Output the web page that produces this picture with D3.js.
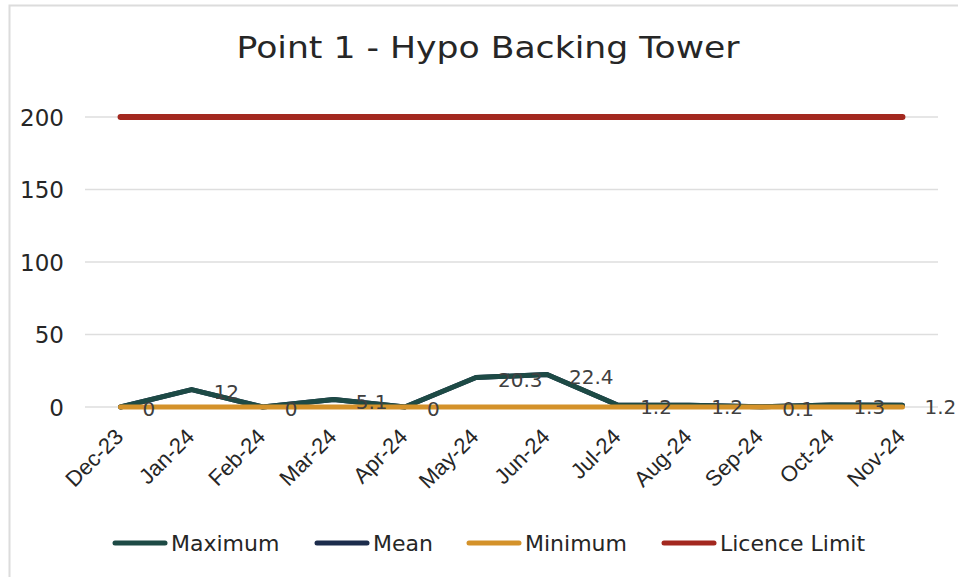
<!DOCTYPE html>
<html><head><meta charset="utf-8">
<script src="https://cdn.jsdelivr.net/npm/d3@7"></script>
<style>body{margin:0;background:#fff;}svg{display:block;}</style>
</head><body>
<svg id="c" width="958" height="577"></svg>
<script>
const months = ["Dec-23","Jan-24","Feb-24","Mar-24","Apr-24","May-24","Jun-24","Jul-24","Aug-24","Sep-24","Oct-24","Nov-24"];
const maximum = [0,12,0,5.1,0,20.3,22.4,1.2,1.2,0.1,1.3,1.2];
const mean = [0,12,0,5.1,0,20.3,22.4,1.2,1.2,0.1,1.3,1.2];
const minimum = [0,0,0,0,0,0,0,0,0,0,0,0];
const licenceLimit = [200,200,200,200,200,200,200,200,200,200,200,200];
const yTicks = [0,50,100,150,200];
const seriesNames = ["Maximum","Mean","Minimum","Licence Limit"];
const title = "Point 1 - Hypo Backing Tower";

const svg = d3.select("#c");
const font = "'DejaVu Sans', sans-serif";
const font2 = "'Liberation Sans', Arial, sans-serif";
const colors = {"Maximum":"#1d4a45","Mean":"#1c2c4c","Minimum":"#d4922a","Licence Limit":"#a3281f"};

svg.append("rect").attr("x",9.5).attr("y",5.5).attr("width",1000).attr("height",1000)
  .attr("fill","none").attr("stroke","#dcdcdc").attr("stroke-width",2);

const x = d3.scalePoint().domain(months).range([85,938]).padding(0.5);
const y = d3.scaleLinear().domain([0,200]).range([407,117]);

// gridlines
svg.append("g").selectAll("line").data(yTicks).join("line")
  .attr("x1",85).attr("x2",938).attr("y1",d=>y(d)).attr("y2",d=>y(d))
  .attr("stroke","#dedede").attr("stroke-width",1.5);

// y axis labels
const yAxis = d3.axisLeft(y).tickValues(yTicks).tickSize(0).tickPadding(0);
const yg = svg.append("g").attr("transform","translate(64,0)").call(yAxis);
yg.select(".domain").remove();
yg.selectAll("text").attr("font-family",font).attr("font-size",23).attr("fill","#262626").attr("dy","0.36em");

// x axis labels
const xAxis = d3.axisBottom(x).tickSize(0).tickPadding(0);
const xg = svg.append("g").call(xAxis);
xg.select(".domain").remove();
xg.selectAll(".tick").attr("transform", d=>`translate(${x(d)+4},438)`);
xg.selectAll("text").attr("font-family",font2).attr("font-size",22).attr("fill","#262626")
  .attr("text-anchor","end").attr("dy",0).attr("y",0).attr("transform","rotate(-45)");

// lines
const line = d3.line().x((d,i)=>x(months[i])).y(d=>y(d));
const drawOrder = [["Mean",mean],["Maximum",maximum],["Minimum",minimum],["Licence Limit",licenceLimit]];
drawOrder.forEach(([name,vals])=>{
  svg.append("path").datum(vals).attr("d",line).attr("fill","none")
    .attr("stroke",colors[name]).attr("stroke-width",name==="Licence Limit"?6:5)
    .attr("stroke-linecap","round").attr("stroke-linejoin","round");
});

// data labels (maximum)
svg.append("g").selectAll("text").data(maximum).join("text")
  .attr("x",(d,i)=>x(months[i])+22).attr("y",d=>y(d)+2)
  .attr("dy","0.36em").attr("font-family",font).attr("font-size",20).attr("fill","#404040")
  .text(d=>d);

// title
svg.append("text").attr("x",488).attr("y",58).attr("text-anchor","middle")
  .attr("font-family",font).attr("font-size",30).attr("fill","#262626")
  .attr("textLength",503).attr("lengthAdjust","spacingAndGlyphs").text(title);

// legend
const legendX = [113,315,467,662];
const lg = svg.append("g");
seriesNames.forEach((name,i)=>{
  lg.append("line").attr("x1",legendX[i]+2).attr("x2",legendX[i]+52).attr("y1",543).attr("y2",543)
    .attr("stroke",colors[name]).attr("stroke-width",5).attr("stroke-linecap","round");
  lg.append("text").attr("x",legendX[i]+58).attr("y",543).attr("dy","0.36em")
    .attr("font-family",font).attr("font-size",22).attr("fill","#262626").text(name);
});
</script>
</body></html>
